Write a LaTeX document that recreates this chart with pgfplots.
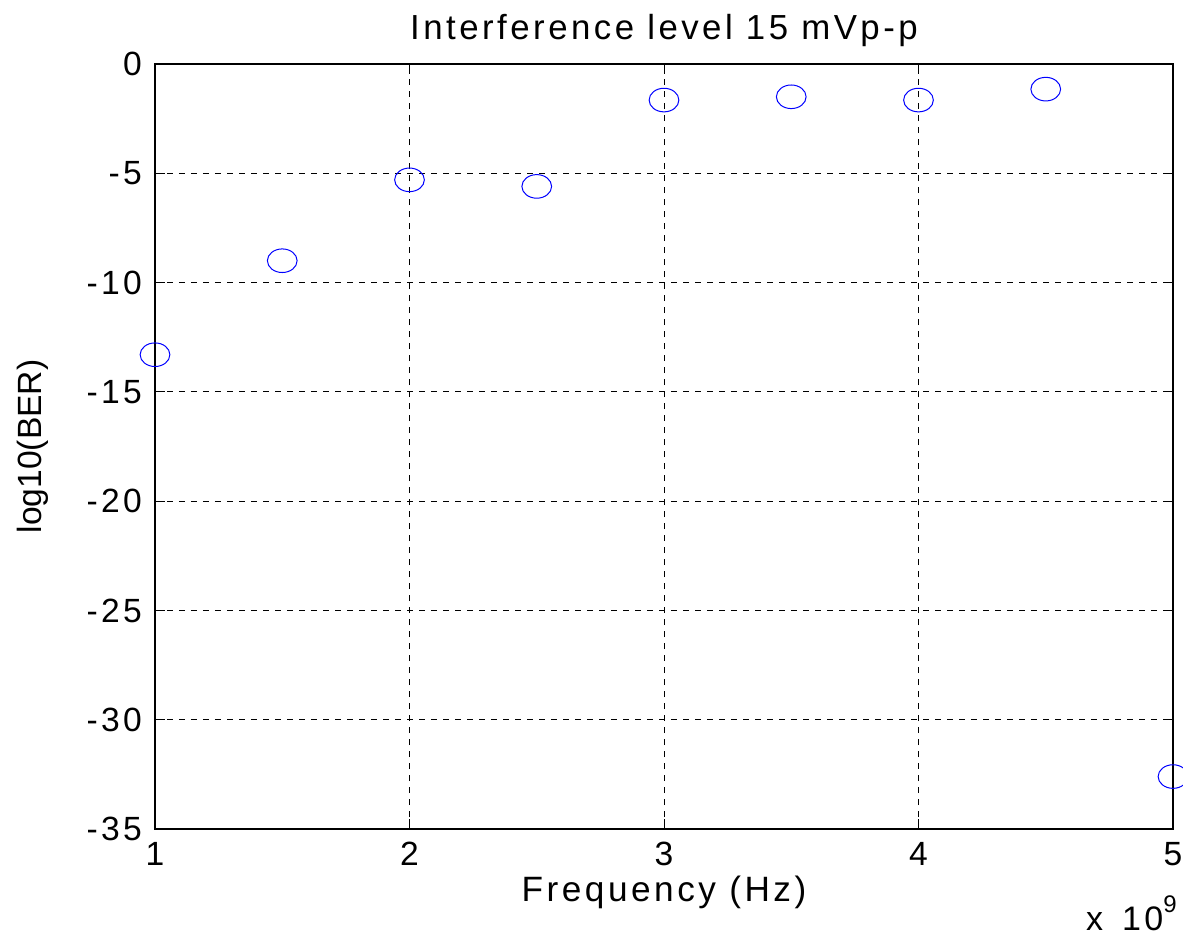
\documentclass[border=0pt]{standalone}
\usepackage{fontspec}
\setmainfont{Liberation Sans}
\newfontfamily\spaced[LetterSpace=10]{Liberation Sans}
\newfontfamily\tspaced[LetterSpace=10]{Liberation Sans}
\usepackage{pgfplots}
\pgfplotsset{compat=1.18}
\begin{document}
\begin{tikzpicture}
\useasboundingbox (-77.5pt,-55pt) rectangle (514pt,414.5pt);
\begin{axis}[
  scale only axis,
  width=509pt, height=382.5pt,
  at={(0,0)}, anchor=south west,
  xmin=1, xmax=5, ymin=-35, ymax=0,
  xtick={1,2,3,4,5}, xticklabels={1,2,3,4,5},
  ytick={-35,-30,...,0},
  tick align=inside, tick pos=both,
  major tick length=5pt,
  grid=major,
  major grid style={black, dashed, line width=0.4pt},
  axis line style={black, line width=0.6pt},
  tick style={black, line width=0.5pt},
  /pgf/number format/assume math mode=true,
  ticklabel style={font=\tspaced\fontsize{16.8}{19}\selectfont},
  xticklabel style={yshift=-3pt},
  yticklabel style={xshift=-3pt},
  title={\spaced\fontsize{17.4}{20}\selectfont Interference level 15 mVp-p},
  title style={yshift=-1pt},
  xlabel={\spaced\fontsize{17.6}{20}\selectfont Frequency (Hz)},
  xlabel style={yshift=2pt},
  ylabel={\fontsize{16.8}{19}\selectfont log10(BER)},
  ylabel style={at={(axis description cs:-0.12,0.5)}, anchor=center},
  clip=false,
]
\addplot[only marks, color={rgb,255:red,0;green,0;blue,255}, mark=o, mark size=5.9pt, mark options={xscale=1.26, line width=0.5pt}]
coordinates {
(1,-13.3) (1.5,-9.0) (2,-5.3) (2.5,-5.6) (3,-1.65) (3.5,-1.5) (4,-1.65) (4.5,-1.15) (5,-32.6)
};
\end{axis}
\node[anchor=base east, font=\tspaced\fontsize{17}{19}\selectfont, inner sep=0pt] at (511pt,-50.5pt) {x\hspace{3pt} 10\raisebox{9pt}{\fontsize{12}{14}\selectfont 9}};
\end{tikzpicture}
\end{document}
